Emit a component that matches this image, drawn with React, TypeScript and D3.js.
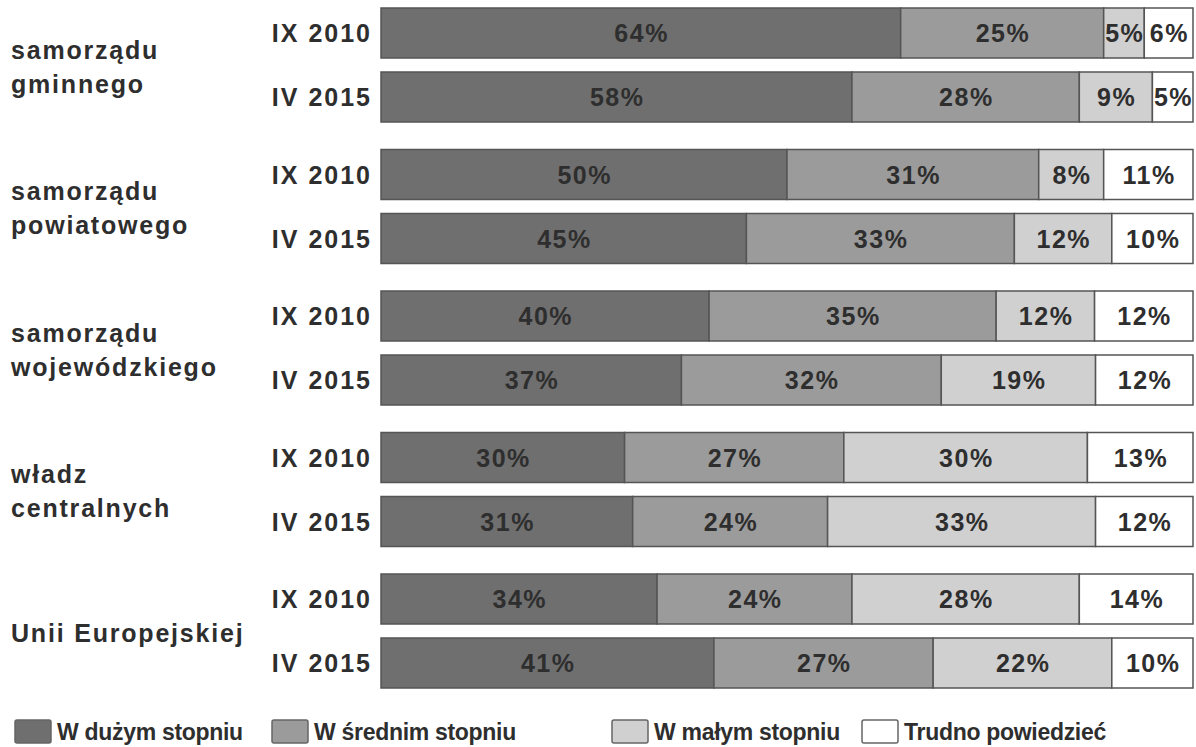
import React from 'react';
import * as d3 from 'd3';

// data
const categories = [
  ['samorządu', 'gminnego'],
  ['samorządu', 'powiatowego'],
  ['samorządu', 'wojewódzkiego'],
  ['władz', 'centralnych'],
  ['Unii Europejskiej'],
];
const years = ['IX 2010', 'IV 2015'];
const seriesNames = ['W dużym stopniu', 'W średnim stopniu', 'W małym stopniu', 'Trudno powiedzieć'];
// one entry per row: group 0 IX 2010, group 0 IV 2015, group 1 IX 2010, ...
const duzym = [64, 58, 50, 45, 40, 37, 30, 31, 34, 41];
const srednim = [25, 28, 31, 33, 35, 32, 27, 24, 24, 27];
const malym = [5, 9, 8, 12, 12, 19, 30, 33, 28, 22];
const trudno = [6, 5, 11, 10, 12, 12, 13, 12, 14, 10];

const colors = ['#6f6f6f', '#9b9b9b', '#d0d0d0', '#ffffff'];
const W = 1196;
const H = 747;
const font = '"Liberation Sans", Arial, sans-serif';
const textColor = '#2e2e2e';

export default function App() {
  const series = [duzym, srednim, malym, trudno];
  const groupY = d3.scaleBand<number>()
    .domain(d3.range(categories.length))
    .range([8, 715.5])
    .paddingInner(0)
    .paddingOuter(0);
  const yearY = d3.scaleBand<string>()
    .domain(years)
    .range([0, 114])
    .paddingInner(14 / 64)
    .paddingOuter(0);
  const barH = yearY.bandwidth();

  const rows = [];
  categories.forEach((cat, gi) => {
    years.forEach((yr, yi) => {
      const ri = gi * years.length + yi;
      const vals = series.map(s => s[ri]);
      const total = d3.sum(vals);
      const x = d3.scaleLinear().domain([0, total]).range([381, 1193]);
      const y = (groupY(gi) ?? 0) + (yearY(yr) ?? 0);
      let acc = 0;
      const segs = vals.map((v, si) => {
        const s = { x0: x(acc), x1: x(acc + v), v, si };
        acc += v;
        return s;
      });
      rows.push({ key: ri, yr, y, segs });
    });
  });

  const legendX = [15, 272, 612, 862];

  return (
    <svg width={W} height={H} style={{ position: 'absolute', left: 0, top: 0, background: '#fff' }}>
      <g fontFamily={font} fontWeight="bold" fill={textColor}>
        {categories.map((lines, gi) => {
          const cy = (groupY(gi) ?? 0) + 59;
          const lh = 34;
          const start = cy - ((lines.length - 1) * lh) / 2;
          return (
            <text key={gi} x={11} fontSize={25} letterSpacing={1.8}>
              {lines.map((l, li) => (
                <tspan key={li} x={11} y={start + li * lh} dy="0.35em">{l}</tspan>
              ))}
            </text>
          );
        })}
        {rows.map(r => (
          <g key={r.key}>
            <text x={372} y={r.y + barH / 2} dy="0.36em" textAnchor="end" fontSize={25} letterSpacing={2}>{r.yr}</text>
            {r.segs.map(s => (
              <rect key={s.si} x={s.x0} y={r.y} width={s.x1 - s.x0} height={barH}
                fill={colors[s.si]} stroke="#555" strokeWidth={1.5} />
            ))}
            {r.segs.map(s => (
              <text key={'t' + s.si} x={(s.x0 + s.x1) / 2 + 0.75} y={r.y + barH / 2} dy="0.36em"
                textAnchor="middle" fontSize={25} letterSpacing={1.5}>{s.v}%</text>
            ))}
          </g>
        ))}
        {seriesNames.map((n, i) => (
          <g key={n}>
            <rect x={legendX[i]} y={720} width={36} height={23} fill={colors[i]} stroke="#666" strokeWidth={1.5} rx={2} />
            <text x={legendX[i] + 42} y={731.5} dy="0.36em" fontSize={23} letterSpacing={-0.3}>{n}</text>
          </g>
        ))}
      </g>
    </svg>
  );
}
